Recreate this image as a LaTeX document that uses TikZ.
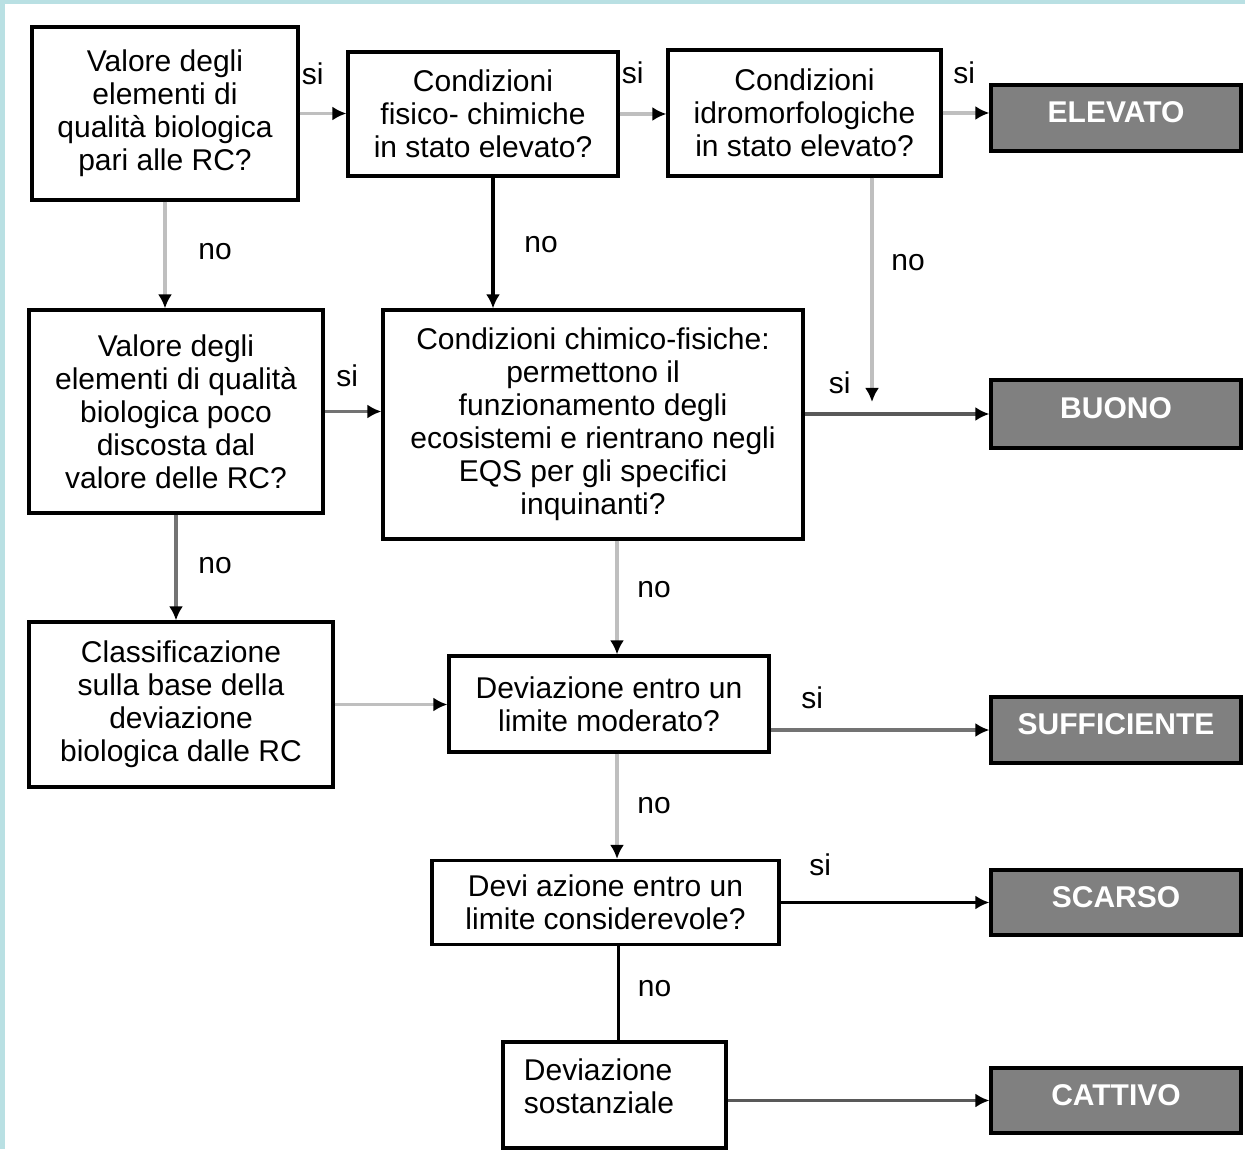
\documentclass[tikz,border=0pt]{standalone}
\usepackage{fontspec}
\setmainfont{Liberation Sans}
\usepackage{tikz}
\usetikzlibrary{arrows.meta,positioning}

\definecolor{framecyan}{RGB}{185,224,227}

\begin{document}
\begin{tikzpicture}[x=0.5pt,y=-0.5pt,
  every node/.style={font=\fontsize{15}{16.5}\selectfont},
  box/.style={draw, line width=1.6pt, align=center, inner sep=2pt},
  outcome/.style={draw, line width=1.6pt, fill=black!50, text=white,
    font=\fontsize{15}{16.5}\selectfont\bfseries, minimum width=125pt,
    text height=10.8pt, text depth=6pt},
  lbl/.style={inner sep=0pt},
  flow/.style={line width=1.8pt, -{Latex[length=7pt,width=7pt,color=black]}},
  lightflow/.style={flow, draw=black!25},
  midflow/.style={flow, draw=black!55},
  darkflow/.style={flow, draw=black!65},
  blackflow/.style={flow, draw=black},
  blackline/.style={line width=1.8pt, draw=black}]

  \useasboundingbox (0,0) rectangle (1245,1149);
  \fill[framecyan] (0,0) rectangle (5,1149);
  \fill[framecyan] (0,0) rectangle (1245,4);

  % domande
  \node[box, minimum width=133pt, minimum height=86.5pt] (A) at (165,113.5)
    {Valore degli\\elementi di\\qualità biologica\\pari alle RC?};
  \node[box, minimum width=135pt, minimum height=62pt] (B) at (483,114)
    {Condizioni\\fisico- chimiche\\in stato elevato?};
  \node[box, minimum width=136.5pt, minimum height=63pt] (C) at (804.5,113)
    {Condizioni\\idromorfologiche\\in stato elevato?};
  \node[box, minimum width=147pt, minimum height=101.5pt] (D) at (176,411.5)
    {Valore degli\\elementi di qualità\\biologica poco\\discosta dal\\valore delle RC?};
  \node[box, minimum width=210pt, minimum height=114.5pt] (E) at (593,424.5)
    {Condizioni chimico-fisiche:\\permettono il\\funzionamento degli\\ecosistemi e rientrano negli\\EQS per gli specifici\\inquinanti?};
  \node[box, minimum width=152pt, minimum height=82.5pt] (F) at (181,704.5)
    {Classificazione\\sulla base della\\deviazione\\biologica dalle RC};
  \node[box, minimum width=160pt, minimum height=48pt] (G) at (609,704)
    {Deviazione entro un\\limite moderato?};
  \node[box, minimum width=173.5pt, minimum height=42pt] (H) at (605.5,902.5)
    {Devi azione entro un\\limite considerevole?};
  \node[box, minimum width=111.5pt, minimum height=53pt,
    label={[align=left, xshift=-7.75pt, yshift=4.5pt]center:Deviazione\\sostanziale}] (I) at (614.5,1095) {};

  % stati
  \node[outcome, minimum height=33pt] (elevato) at (1116,118) {ELEVATO};
  \node[outcome, minimum height=34pt] (buono) at (1116,414) {BUONO};
  \node[outcome, minimum height=33pt] (sufficiente) at (1116,730) {SUFFICIENTE};
  \node[outcome, minimum height=32.5pt] (scarso) at (1116,902.5) {SCARSO};
  \node[outcome, minimum height=32.5pt] (cattivo) at (1116,1100.5) {CATTIVO};

  \coordinate (bdown) at ([xshift=5pt]B.south);
  \coordinate (cdown) at ([xshift=33.75pt]C.south);
  \coordinate (cstop) at (cdown |- buono.west);
  \coordinate (gtop) at ([xshift=4pt]G.north);
  \coordinate (gbot) at ([xshift=4pt]G.south);
  \coordinate (itop) at ([xshift=2pt]I.north);

  \path
    (A.east) edge[lightflow] node[lbl, pos=0.28, yshift=20pt] {si} (A.east -| B.west)
    (B.east) edge[lightflow] node[lbl, pos=0.28, yshift=20.5pt] {si} (B.east -| C.west)
    (C.east) edge[lightflow] node[lbl, pos=0.46, yshift=20pt] {si} (C.east -| elevato.west)
    (A.south) edge[lightflow] node[lbl, pos=0.47, xshift=25pt] {no} (A.south |- D.north)
    (bdown) edge[blackflow] node[lbl, pos=0.51, xshift=24pt] {no} (bdown |- E.north)
    (cdown) edge[lightflow] node[lbl, pos=0.38, xshift=18pt] {no} ([yshift=6pt]cstop)
    (D.east) edge[midflow] node[lbl, pos=0.4, yshift=18pt] {si} (D.east -| E.west)
    (buono.west -| E.east) edge[darkflow] node[lbl, pos=0.19, yshift=15.5pt] {si} (buono.west)
    (D.south) edge[midflow] node[lbl, pos=0.48, xshift=19.5pt] {no} (D.south |- F.north)
    (gtop |- E.south) edge[lightflow] node[lbl, pos=0.43, xshift=18.5pt] {no} (gtop)
    (F.east) edge[lightflow] (F.east -| G.west)
    (sufficiente.west -| G.east) edge[midflow] node[lbl, pos=0.19, yshift=16pt] {si} (sufficiente.west)
    (gbot) edge[lightflow] node[lbl, pos=0.49, xshift=18.5pt] {no} (gbot |- H.north)
    (scarso.west -| H.east) edge[blackflow] node[lbl, pos=0.19, yshift=19pt] {si} (scarso.west)
    (itop |- H.south) edge[blackline] node[lbl, pos=0.45, xshift=18pt] {no} (itop)
    (cattivo.west -| I.east) edge[darkflow] (cattivo.west);

\end{tikzpicture}
\end{document}
